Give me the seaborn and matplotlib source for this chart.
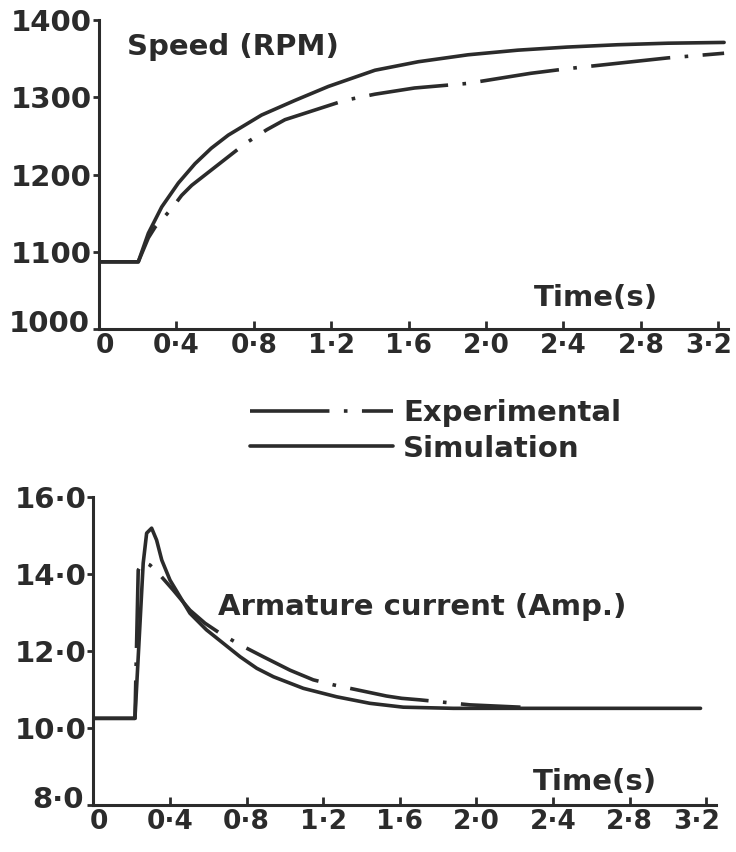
import numpy as np
import seaborn as sns
import matplotlib
matplotlib.use("Agg")
import matplotlib.pyplot as plt
from matplotlib.transforms import ScaledTranslation

# speed response (RPM)
speed_t_sim = [0.0, 0.203, 0.255, 0.324, 0.41, 0.496, 0.58, 0.668, 0.84, 1.013, 1.185,
               1.426, 1.65, 1.907, 2.165, 2.42, 2.68, 2.94, 3.23]
speed_sim = [1087, 1087, 1124, 1158, 1189, 1214, 1234, 1251, 1277, 1296, 1314,
             1335, 1346, 1355, 1361, 1365, 1368, 1370, 1371]
speed_t_exp = [0.0, 0.203, 0.255, 0.29, 0.376, 0.427, 0.479, 0.755, 0.867, 0.961, 1.27,
               1.426, 1.63, 1.907, 2.13, 2.23, 2.42, 2.68, 2.94, 3.04, 3.23]
speed_exp = [1087, 1087, 1118, 1132, 1156, 1173, 1186, 1240, 1258, 1271, 1296,
             1304, 1312, 1318, 1327, 1331, 1337, 1344, 1351, 1353, 1357]

# armature current (A)
cur_t_sim = [0.0, 0.217, 0.26, 0.278, 0.304, 0.33, 0.357, 0.40, 0.452, 0.504, 0.59, 0.678,
             0.766, 0.853, 0.94, 1.096, 1.27, 1.444, 1.618, 1.88, 2.23, 3.17]
cur_sim = [10.25, 10.25, 14.28, 15.06, 15.19, 14.88, 14.36, 13.84, 13.41, 12.98, 12.55, 12.2,
           11.85, 11.55, 11.33, 11.03, 10.81, 10.64, 10.54, 10.51, 10.51, 10.51]
cur_t_exp = [0.0, 0.217, 0.234, 0.26, 0.296, 0.348, 0.417, 0.504, 0.583, 0.661, 0.766, 0.887,
             1.027, 1.148, 1.253, 1.53, 1.61, 1.705, 1.967, 2.23]
cur_exp = [10.25, 10.25, 14.1, 14.32, 14.23, 13.97, 13.58, 13.06, 12.72, 12.46, 12.16, 11.85,
           11.5, 11.25, 11.12, 10.83, 10.77, 10.73, 10.6, 10.54]

x_ticks = [0, 0.4, 0.8, 1.2, 1.6, 2.0, 2.4, 2.8, 3.2]
x_labels = ["0", "0·4", "0·8", "1·2", "1·6", "2·0", "2·4", "2·8", "3·2"]
speed_ticks = [1000, 1100, 1200, 1300, 1400]
speed_labels = ["1000", "1100", "1200", "1300", "1400"]
cur_ticks = [8, 10, 12, 14, 16]
cur_labels = ["8·0", "10·0", "12·0", "14·0", "16·0"]

ink = "#2b2b2b"
dashdot = (0, (22, 4, 1, 4))

sns.set_style("ticks")
plt.rcParams["font.family"] = ["DejaVu Sans"]

fig = plt.figure(figsize=(7.36, 8.52), dpi=100)
ax1 = fig.add_axes([0.1345, 0.6138, 0.8546, 0.3627])
ax2 = fig.add_axes([0.1269, 0.0552, 0.8457, 0.3615])

sns.lineplot(x=speed_t_exp, y=speed_exp, ax=ax1, color=ink, lw=2.6, linestyle=dashdot,
             estimator=None, sort=False, legend=False, label="Experimental")
sns.lineplot(x=speed_t_sim, y=speed_sim, ax=ax1, color=ink, lw=2.6,
             estimator=None, sort=False, legend=False, label="Simulation")
sns.lineplot(x=cur_t_exp, y=cur_exp, ax=ax2, color=ink, lw=2.6, linestyle=dashdot,
             estimator=None, sort=False, legend=False)
sns.lineplot(x=cur_t_sim, y=cur_sim, ax=ax2, color=ink, lw=2.6,
             estimator=None, sort=False, legend=False)

for ax, yt, yl in [(ax1, speed_ticks, speed_labels), (ax2, cur_ticks, cur_labels)]:
    ax.set_xlim(0, 3.25)
    ax.set_ylim(yt[0], yt[-1])
    ax.set_xticks(x_ticks, x_labels, fontsize=19, fontweight="bold", color=ink)
    ax.set_yticks(yt, yl, fontsize=21, fontweight="bold", color=ink)
    ax.tick_params(axis="x", direction="in", length=6, width=2, pad=3, color=ink)
    ax.tick_params(axis="y", direction="out", length=4, width=2, pad=1, color=ink)
    sns.despine(ax=ax)
    for s in ["left", "bottom"]:
        ax.spines[s].set_linewidth(2.2)
        ax.spines[s].set_color(ink)
    ax.set_xlabel("")
    ax.set_ylabel("")
    # keep the corner labels apart, and the last one inside the canvas
    xl = ax.get_xticklabels()
    xl[0].set_transform(xl[0].get_transform() + ScaledTranslation(4 / 72, 0, fig.dpi_scale_trans))
    xl[-1].set_transform(xl[-1].get_transform() + ScaledTranslation(-7 / 72, 0, fig.dpi_scale_trans))
    yl0 = ax.get_yticklabels()[0]
    yl0.set_transform(yl0.get_transform() + ScaledTranslation(-2 / 72, 6 / 72, fig.dpi_scale_trans))

txt = dict(fontsize=21, fontweight="bold", color=ink)
ax1.text(0.145, 1365, "Speed (RPM)", ha="left", va="center", **txt)
ax1.text(2.57, 1040, "Time(s)", ha="center", va="center", **txt)
ax2.text(0.65, 13.14, "Armature current (Amp.)", ha="left", va="center", **txt)
ax2.text(2.62, 8.6, "Time(s)", ha="center", va="center", **txt)

fig.legend(handles=ax1.get_lines()[:2], loc="center left",
           bbox_to_anchor=(250 / 736, 1 - 431 / 852), bbox_transform=fig.transFigure,
           frameon=False, borderpad=0, borderaxespad=0, handlelength=4.9,
           handletextpad=0.35, labelspacing=0.25,
           prop=dict(size=21, weight="bold"), labelcolor=ink)

fig.savefig("out.png", dpi=100, facecolor="white")
